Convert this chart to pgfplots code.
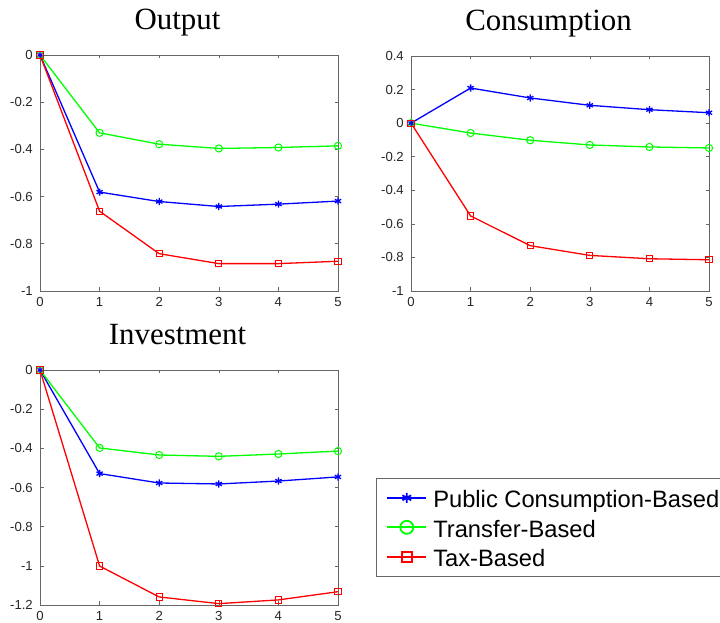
\documentclass[border=0pt]{standalone}
\usepackage{fontspec}
\setmainfont{Liberation Serif}
\newfontfamily\arial{Liberation Sans}
\usepackage{pgfplots}
\pgfplotsset{compat=1.18}
\definecolor{mblue}{rgb}{0,0,1}
\definecolor{mgreen}{rgb}{0,1,0}
\definecolor{mred}{rgb}{1,0,0}
\pgfplotsset{
  mstyle/.style={
    scale only axis, width=298bp, height=235bp,
    xmin=0, xmax=5, xtick={0,1,2,3,4,5},
    clip=false,
    tick align=inside, major tick length=3.5bp,
    axis line style={black!60, line width=0.6bp},
    tick style={black!60, line width=0.6bp},
    tick label style={font=\arial\fontsize{13.2}{14}\selectfont, text=black!85, inner sep=0pt},
    yticklabel style={xshift=-7bp},
    xticklabel style={yshift=-6.5bp},
    /pgf/number format/assume math mode=true,
    title style={font=\fontsize{31}{31}\selectfont, at={(0.5,1)}, anchor=base, yshift=19.5bp, xshift=-11.5bp},
    every axis plot/.append style={line width=1.3bp},
  },
  sb/.style={mblue, mark=asterisk, mark size=3.6bp, mark options={solid, line width=1.3bp},
    legend image post style={mark size=5bp, line width=2bp, mark options={solid, line width=1.8bp}}},
  sg/.style={mgreen, mark=o, mark size=3.6bp, mark options={solid, line width=1bp},
    legend image post style={mark size=6.5bp, line width=2bp, mark options={solid, line width=1.8bp}}},
  sr/.style={mred, mark=square, mark size=3.1bp, mark options={solid, line width=1bp},
    legend image post style={mark size=5bp, line width=2bp, mark options={solid, line width=1.8bp}}},
}
\begin{document}
\begin{tikzpicture}[x=1bp,y=1bp]
\useasboundingbox (0,0) rectangle (720,623);
\clip (0,0) rectangle (720,623);
% Output
\begin{axis}[mstyle, at={(40bp,332bp)}, anchor=south west, height=236bp,
  title={Output}, ymin=-1, ymax=0,
  ytick={-1,-0.8,-0.6,-0.4,-0.2,0}, yticklabels={-1,-0.8,-0.6,-0.4,-0.2,0}]
\addplot[sb] coordinates {(0,0)(1,-0.581)(2,-0.621)(3,-0.642)(4,-0.632)(5,-0.619)};
\addplot[sg] coordinates {(0,0)(1,-0.330)(2,-0.378)(3,-0.396)(4,-0.392)(5,-0.385)};
\addplot[sr] coordinates {(0,0)(1,-0.662)(2,-0.842)(3,-0.884)(4,-0.884)(5,-0.874)};
\end{axis}
% Consumption
\begin{axis}[mstyle, at={(411bp,332bp)}, anchor=south west,
  title={Consumption}, ymin=-1, ymax=0.4,
  ytick={-1,-0.8,-0.6,-0.4,-0.2,0,0.2,0.4}, yticklabels={-1,-0.8,-0.6,-0.4,-0.2,0,0.2,0.4}]
\addplot[sb] coordinates {(0,0)(1,0.209)(2,0.150)(3,0.106)(4,0.080)(5,0.062)};
\addplot[sg] coordinates {(0,0)(1,-0.059)(2,-0.102)(3,-0.130)(4,-0.142)(5,-0.148)};
\addplot[sr] coordinates {(0,0)(1,-0.553)(2,-0.730)(3,-0.788)(4,-0.808)(5,-0.814)};
\end{axis}
% Investment
\begin{axis}[mstyle, at={(40bp,18bp)}, anchor=south west,
  title={Investment}, ymin=-1.2, ymax=0,
  ytick={-1.2,-1,-0.8,-0.6,-0.4,-0.2,0}, yticklabels={-1.2,-1,-0.8,-0.6,-0.4,-0.2,0},
  legend style={at={(1.1275,0.5404)}, anchor=north west, draw=black!60, line width=0.6bp,
    font=\arial\fontsize{23.8}{24}\selectfont, inner xsep=10bp, inner ysep=4.75bp,
    nodes={inner sep=0pt, text height=24.75bp, text depth=4.75bp},
    column sep=6bp, row sep=0pt},
  legend cell align=left,
  legend image code/.code={\draw[mark repeat=2, mark phase=2] plot coordinates {(0bp,0bp)(19.5bp,0bp)(39bp,0bp)};},
  ]
\addplot[sb] coordinates {(0,0)(1,-0.529)(2,-0.577)(3,-0.582)(4,-0.567)(5,-0.546)};
\addplot[sg] coordinates {(0,0)(1,-0.398)(2,-0.434)(3,-0.441)(4,-0.429)(5,-0.414)};
\addplot[sr] coordinates {(0,0)(1,-1.001)(2,-1.159)(3,-1.193)(4,-1.174)(5,-1.132)};
\legend{Public Consumption-Based, Transfer-Based, Tax-Based}
\end{axis}
\end{tikzpicture}
\end{document}
